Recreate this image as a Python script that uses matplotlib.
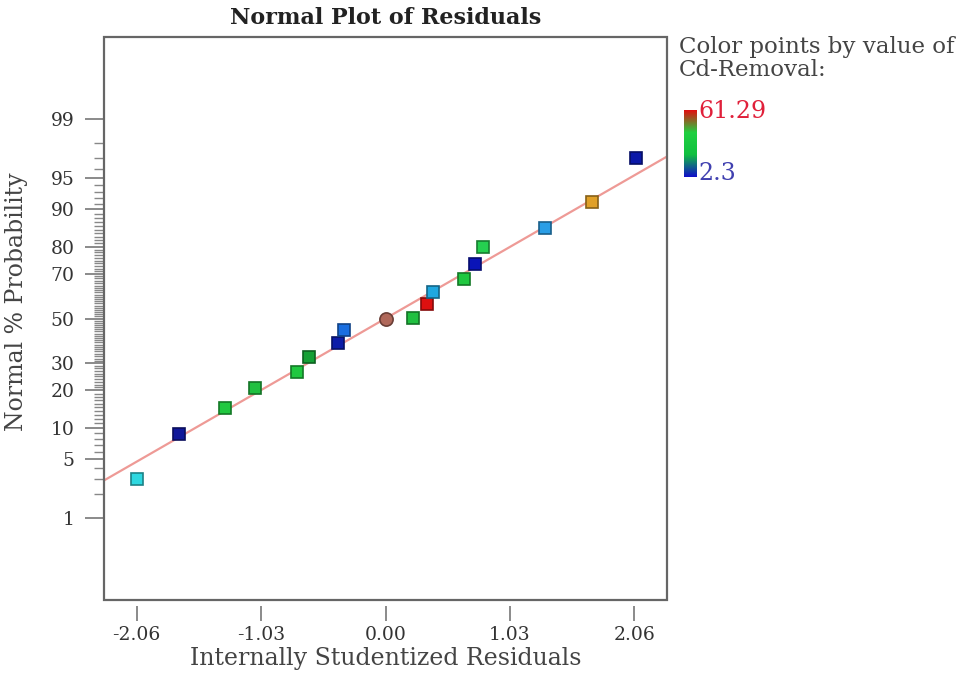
import numpy as np
import matplotlib
matplotlib.use("Agg")
import matplotlib.pyplot as plt
from matplotlib.colors import LinearSegmentedColormap, to_rgb
from matplotlib.patches import Rectangle
from statistics import NormalDist

# ---------------- data ----------------
residuals = [-2.06, -1.71, -1.33, -1.08, -0.73, -0.63, -0.39, -0.34, 0.00,
             0.23, 0.34, 0.39, 0.65, 0.74, 0.81, 1.32, 1.71, 2.07]
probability = [3.06, 8.9, 14.8, 20.9, 26.6, 32.7, 38.7, 44.7, 50.0,
               50.3, 56.7, 62.1, 67.8, 73.8, 79.8, 85.5, 91.3, 97.0]
point_colors = ['#2ed8e0', '#10189a', '#20c840', '#20c040', '#20c840', '#15a035',
                '#0c1ca8', '#1a6ee0', '#b0685a', '#20c040', '#dd1010', '#20a8e0',
                '#20c840', '#0a14b8', '#25d050', '#2a9ee6', '#e0a028', '#0a18a8']
point_markers = ['s'] * 8 + ['o'] + ['s'] * 9
fit_slope = 0.8125      # z-score per residual unit
fit_intercept = 0.0
x_ticks = [-2.06, -1.03, 0.00, 1.03, 2.06]
x_tick_labels = ['-2.06', '-1.03', '0.00', '1.03', '2.06']
y_major = [1, 5, 10, 20, 30, 50, 70, 80, 90, 95, 99]
y_minor = [p for p in range(1, 100) if p not in y_major]
cd_min, cd_max = 2.3, 61.29

# ---------------- scale helpers ----------------
_nd = NormalDist()
def fwd(p):
    p = np.clip(np.asarray(p, dtype=float) / 100.0, 1e-9, 1 - 1e-9)
    return np.vectorize(_nd.inv_cdf)(p)
def inv(z):
    return np.vectorize(_nd.cdf)(np.asarray(z, dtype=float)) * 100.0

font = ['DejaVu Serif']
plt.rcParams['font.family'] = font

fig = plt.figure(figsize=(9.77, 6.82), dpi=100)
ax = fig.add_axes([104/977, 1 - 600/682, (667-104)/977, (600-37)/682])
ax.set_yscale('function', functions=(fwd, inv))
xlim = (-2.33, 2.33)
ax.set_xlim(*xlim)
ax.set_ylim(0.05, 99.95)

# fit line
xl = np.array(xlim)
ax.plot(xl, inv(fit_intercept + fit_slope * xl), color='#ee9a96', lw=1.6, zorder=2)

# points
for x, p, c, m in zip(residuals, probability, point_colors, point_markers):
    edge = tuple(np.array(to_rgb(c)) * 0.6)
    ax.plot(x, p, marker=m, ms=8.5 if m == 's' else 9.5, mfc=c, mec=edge, mew=1.2,
            ls='none', zorder=3)

# frame
for s in ax.spines.values():
    s.set_visible(False)
ax.add_patch(Rectangle((0, 0), 1, 1, transform=ax.transAxes, fill=False,
                       ec='#666666', lw=1.6, clip_on=False, zorder=5))
ax.spines['bottom'].set_position(('outward', 4))

ax.set_xticks(x_ticks)
ax.set_xticklabels(x_tick_labels)
ax.set_yticks(y_major)
ax.set_yticklabels([str(v) for v in y_major])
ax.set_yticks(y_minor, minor=True)
ax.tick_params(axis='x', direction='out', length=11, width=1.2, color='#777777',
               labelsize=13.5, labelcolor='#333333', pad=4)
ax.tick_params(axis='y', which='major', direction='out', length=14, width=1.2,
               color='#777777', labelsize=13.5, labelcolor='#333333', pad=7)
ax.tick_params(axis='y', which='minor', direction='out', length=7, width=1.0,
               color='#888888')
ax.tick_params(axis='x', which='minor', bottom=False)

ax.set_xlabel('Internally Studentized Residuals', fontsize=17, color='#444444', labelpad=2)
ax.set_ylabel('Normal % Probability', fontsize=17, color='#444444', labelpad=8)
ax.yaxis.set_label_coords(-0.135, 0.53)
ax.set_title('Normal Plot of Residuals', fontsize=16, fontweight='bold', color='#222222', pad=9)

# colour legend
fig.text(679/977, 1 - 36/682, 'Color points by value of\nCd-Removal:', fontsize=16.5,
         color='#444444', va='top', ha='left', linespacing=1.05)
cax = fig.add_axes([684/977, 1 - 177/682, 13/977, 67/682])
cmap = LinearSegmentedColormap.from_list('cd', ['#1010c8', '#10c040', '#20d040', '#e01010'])
grad = np.linspace(cd_min, cd_max, 100).reshape(-1, 1)
cax.imshow(grad, aspect='auto', cmap=cmap, origin='lower',
           extent=[0, 1, cd_min, cd_max])
cax.set_axis_off()
fig.text(698/977, 1 - 112/682, f'{cd_max:g}', fontsize=17, color='#e0203a', va='center', ha='left')
fig.text(698/977, 1 - 174/682, f'{cd_min:g}', fontsize=17, color='#4040b0', va='center', ha='left')

fig.savefig('out.png', dpi=100)
